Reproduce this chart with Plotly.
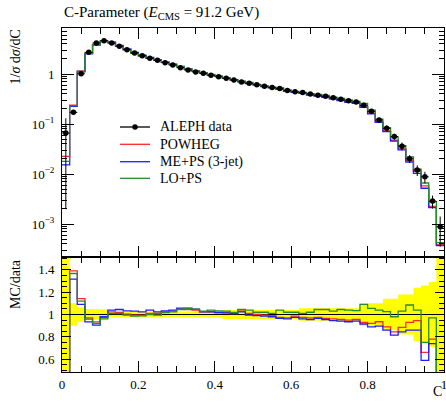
import plotly.graph_objects as go

# ---------------- data ----------------
bin_edges = [round(0.02 * i, 2) for i in range(51)]
bin_centres = [round(0.01 + 0.02 * i, 2) for i in range(50)]

aleph_data = [0.066, 0.171, 1.01, 2.71, 4.17, 4.64, 4.17, 3.58, 3.07, 2.63,
              2.32, 2.06, 1.88, 1.68, 1.51, 1.34, 1.20, 1.10, 1.03, 0.94,
              0.88, 0.82, 0.76, 0.69, 0.65, 0.61, 0.57, 0.54, 0.51, 0.47,
              0.44, 0.425, 0.398, 0.375, 0.358, 0.336, 0.312, 0.292, 0.275, 0.236,
              0.179, 0.120, 0.082, 0.056, 0.036, 0.0202, 0.0120, 0.0088, 0.00287, 0.00088]

aleph_rel_err = [0.97, 0.10, 0.065, 0.05, 0.045, 0.045, 0.025, 0.025, 0.025, 0.025,
                 0.025, 0.025, 0.025, 0.025, 0.025, 0.03, 0.03, 0.03, 0.03, 0.03,
                 0.03, 0.04, 0.04, 0.04, 0.04, 0.04, 0.04, 0.04, 0.04, 0.04,
                 0.04, 0.055, 0.055, 0.055, 0.055, 0.055, 0.055, 0.055, 0.055, 0.10,
                 0.10, 0.10, 0.14, 0.14, 0.18, 0.18, 0.24, 0.26, 0.29, 0.60]

ratio_powheg = [0.34, 1.39, 1.143, 0.97, 0.934, 0.975, 1.024, 1.018, 1.003, 0.994,
                0.994, 1.009, 1.009, 1.024, 1.03, 1.048, 1.045, 1.039, 1.024, 1.024,
                1.018, 1.018, 1.009, 1.03, 1.009, 1.0, 0.995, 0.99, 0.975, 0.97,
                0.985, 0.975, 0.97, 0.975, 0.965, 0.96, 0.955, 0.95, 0.955, 0.93,
                0.92, 0.935, 0.89, 0.845, 0.885, 0.93, 0.945, 0.66, 0.78, 0.44]

ratio_meps = [0.23, 1.316, 1.09, 0.934, 0.905, 0.98, 1.039, 1.045, 1.033, 1.03,
              1.024, 1.039, 1.024, 1.033, 1.039, 1.057, 1.057, 1.048, 1.024, 1.024,
              1.018, 1.015, 1.009, 1.024, 0.994, 0.99, 0.985, 0.98, 0.965, 0.96,
              0.975, 0.96, 0.955, 0.965, 0.955, 0.945, 0.94, 0.935, 0.94, 0.915,
              0.89, 0.895, 0.86, 0.815, 0.845, 0.86, 0.86, 0.59, 0.74, 0.42]

ratio_lops = [0.27, 1.367, 1.12, 0.958, 0.92, 0.96, 1.009, 1.009, 0.994, 0.985,
              0.988, 1.0, 0.994, 1.018, 1.024, 1.045, 1.054, 1.048, 1.03, 1.039,
              1.033, 1.03, 1.018, 1.045, 1.039, 1.02, 1.02, 1.01, 1.04, 1.02,
              1.02, 1.01, 1.02, 1.045, 1.045, 1.03, 1.045, 1.04, 1.035, 1.09,
              1.055, 1.04, 1.025, 0.98, 1.03, 1.085, 1.04, 0.75, 0.97, 0.48]

x_tick_vals = [0, 0.2, 0.4, 0.6, 0.8, 1]
x_tick_text = ["0", "0.2", "0.4", "0.6", "0.8", "1"]
y_main_tick_vals = [1e-3, 1e-2, 1e-1, 1]
y_main_tick_text = ["10<sup>\u22123</sup>", "10<sup>\u22122</sup>", "10<sup>\u22121</sup>", "1"]
y_ratio_tick_vals = [0.6, 0.8, 1.0, 1.2, 1.4]
y_ratio_tick_text = ["0.6", "0.8", "1", "1.2", "1.4"]

series = [
    ("POWHEG", ratio_powheg, "rgb(255,40,40)"),
    ("ME+PS (3-jet)", ratio_meps, "rgb(30,30,255)"),
    ("LO+PS", ratio_lops, "rgb(40,140,40)"),
]

FONT = "Liberation Serif"

# ---------------- geometry ----------------
W, H = 446, 403
ML, MR, MT, MB = 62, 2, 28, 31
split_px = 257
pw, ph = W - ML - MR, H - MT - MB
split = (H - MB - split_px) / ph


def px2paper(px, py):
    return (px - ML) / pw, (H - MB - py) / ph


def step(vals):
    return list(vals) + [vals[-1]]


fig = go.Figure()

# ratio: yellow data-uncertainty band
band_x, band_y = [], []
for i in range(50):
    band_x += [bin_edges[i], bin_edges[i + 1]]
    band_y += [1 + aleph_rel_err[i]] * 2
low_x, low_y = [], []
for i in range(50):
    low_x += [bin_edges[i], bin_edges[i + 1]]
    low_y += [1 - aleph_rel_err[i]] * 2
fig.add_trace(go.Scatter(x=band_x + low_x[::-1], y=band_y + low_y[::-1],
                         fill="toself", fillcolor="#ffff00", line=dict(width=0),
                         mode="lines", hoverinfo="skip", showlegend=False,
                         xaxis="x", yaxis="y"))
fig.add_trace(go.Scatter(x=[0, 1], y=[1, 1], mode="lines",
                         line=dict(color="black", width=1), showlegend=False,
                         xaxis="x", yaxis="y"))

for name, ratio, col in series:
    fig.add_trace(go.Scatter(x=bin_edges, y=step(ratio), mode="lines",
                             line=dict(color=col, width=1.3, shape="hv"),
                             showlegend=False, xaxis="x", yaxis="y"))

# main panel MC
for name, ratio, col in series:
    mc = [d * r for d, r in zip(aleph_data, ratio)]
    fig.add_trace(go.Scatter(x=bin_edges, y=step(mc), mode="lines",
                             line=dict(color=col, width=1.3, shape="hv"),
                             showlegend=False, xaxis="x2", yaxis="y2"))

# main panel data
fig.add_trace(go.Scatter(
    x=bin_centres, y=aleph_data, mode="markers",
    marker=dict(color="black", size=5.5),
    error_y=dict(type="data", array=[d * e for d, e in zip(aleph_data, aleph_rel_err)],
                 color="black", thickness=1, width=0),
    error_x=dict(type="constant", value=0.01, color="black", thickness=1, width=0),
    showlegend=False, xaxis="x2", yaxis="y2"))

axis_common = dict(showline=True, linecolor="black", linewidth=1, mirror="allticks",
                   ticks="inside", tickcolor="black", showgrid=False, zeroline=False,
                   tickfont=dict(family=FONT, size=13, color="black"), automargin=False,
                   ticklabeloverflow="allow")

minor_y_main = []
for e in [1e-4, 1e-3, 1e-2, 1e-1, 1]:
    for k in range(2, 10):
        minor_y_main.append(round(k * e, 6))

fig.update_layout(
    width=W, height=H,
    margin=dict(l=ML, r=MR, t=MT, b=MB, pad=0),
    paper_bgcolor="white", plot_bgcolor="white",
    showlegend=False,
    xaxis=dict(axis_common, domain=[0, 1], range=[0, 1], anchor="y",
               tickvals=x_tick_vals, ticktext=x_tick_text, ticklen=11,
               minor=dict(ticks="inside", ticklen=6, dtick=0.05, tick0=0, tickcolor="black")),
    xaxis2=dict(axis_common, domain=[0, 1], range=[0, 1], anchor="y2", matches="x",
                tickvals=x_tick_vals, ticklen=11, showticklabels=False,
                minor=dict(ticks="inside", ticklen=6, dtick=0.05, tick0=0, tickcolor="black")),
    yaxis=dict(axis_common, domain=[0, split], range=[0.485, 1.515], anchor="x",
               tickvals=y_ratio_tick_vals, ticktext=y_ratio_tick_text, ticklen=9,
               ticklabelstandoff=4,
               minor=dict(ticks="inside", ticklen=5, dtick=0.05, tick0=0, tickcolor="black")),
    yaxis2=dict(axis_common, domain=[split, 1], type="log", range=[-3.66, 0.92], anchor="x2",
                tickvals=y_main_tick_vals, ticktext=y_main_tick_text, ticklen=12,
                ticklabelstandoff=4,
                minor=dict(ticks="inside", ticklen=5, tickvals=minor_y_main, tickcolor="black")),
)

# titles
ann = []
tx, ty = px2paper(62, 13)
ann.append(dict(x=tx, y=ty, xref="paper", yref="paper", xanchor="left", yanchor="middle",
                showarrow=False, text="C-Parameter (<i>E</i><sub>CMS</sub> = 91.2 GeV)",
                font=dict(family=FONT, size=15, color="black")))
lx, ly = px2paper(15, 28)
ann.append(dict(x=lx, y=ly, xref="paper", yref="paper", xanchor="center", yanchor="top",
                textangle=-90, showarrow=False, text="1/<i>σ</i> d<i>σ</i>/dC",
                font=dict(family=FONT, size=14, color="black")))
lx, ly = px2paper(15, 257)
ann.append(dict(x=lx, y=ly, xref="paper", yref="paper", xanchor="center", yanchor="top",
                textangle=-90, showarrow=False, text="MC/data",
                font=dict(family=FONT, size=14, color="black")))
cx, cy = px2paper(444, 401)
ann.append(dict(x=cx, y=cy, xref="paper", yref="paper", xanchor="right", yanchor="bottom",
                showarrow=False, text="C", font=dict(family=FONT, size=14, color="black")))

# legend (manual)
legend_entries = [("ALEPH data", "black")] + [(n, c) for n, _, c in series]
legend_rows_px = [127, 144.3, 161.7, 178.3]
shapes = []
for (name, col), py in zip(legend_entries, legend_rows_px):
    x0, yy = px2paper(120, py)
    x1, _ = px2paper(150, py)
    shapes.append(dict(type="line", xref="paper", yref="paper", x0=x0, x1=x1, y0=yy, y1=yy,
                       line=dict(color=col, width=1.3)))
    tx, _ = px2paper(158, py)
    ann.append(dict(x=tx, y=yy, xref="paper", yref="paper", xanchor="left", yanchor="middle",
                    showarrow=False, text=name, font=dict(family=FONT, size=14, color="black")))
mx, my = px2paper(135, legend_rows_px[0])
shapes.append(dict(type="circle", xref="paper", yref="paper", xsizemode="pixel",
                   ysizemode="pixel", xanchor=mx, yanchor=my, x0=-2.75, x1=2.75,
                   y0=-2.75, y1=2.75, fillcolor="black", line=dict(color="black", width=0)))

fig.update_layout(annotations=ann, shapes=shapes)
fig.write_html("out.html")
